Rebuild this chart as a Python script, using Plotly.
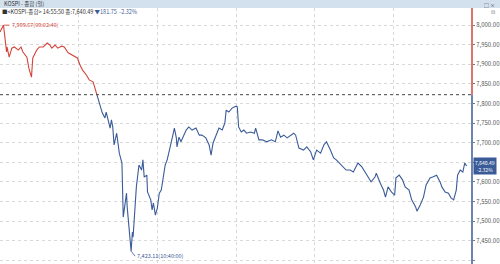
import plotly.graph_objects as go

# ---- data ----
times = ["09:00:00","09:02:40","09:05:00","09:05:20","09:07:00","09:09:00","09:11:00","09:14:00","09:16:00","09:17:30",
         "09:20:30","09:22:00","09:24:00","09:25:00","09:28:00","09:30:00","09:33:00","09:36:00","09:38:00","09:39:30",
         "09:42:00","09:44:00","09:47:00","09:49:00","09:52:00","09:55:00","09:57:00","09:59:00","10:01:00","10:03:00",
         "10:06:00","10:08:00","10:11:00","10:14:00","10:16:00","10:18:00","10:20:00","10:21:00","10:24:00","10:25:00",
         "10:26:00","10:27:00","10:29:00","10:31:00","10:33:00","10:33:30","10:34:00","10:36:30","10:37:00","10:40:00",
         "10:41:00","10:41:30","10:42:30","10:44:00","10:46:00","10:48:00","10:49:00","10:50:00","10:52:00","10:52:30",
         "10:55:00","10:56:00","10:57:00","10:58:30","11:00:00","11:01:30","11:03:00","11:04:00","11:06:00","11:07:30",
         "11:10:00","11:11:30","11:13:00","11:14:30","11:15:00","11:16:30","11:18:00","11:19:30","11:22:00","11:24:00",
         "11:26:30","11:29:30","11:32:00","11:34:00","11:37:00","11:39:30","11:41:00","11:42:30","11:45:00","11:47:00",
         "11:49:30","11:51:30","11:52:30","11:54:30","11:57:00","12:00:00","12:01:00","12:02:00","12:04:00","12:06:00",
         "12:08:00","12:11:00","12:14:00","12:15:00","12:17:30","12:20:00","12:23:30","12:27:00","12:30:00","12:32:00",
         "12:34:00","12:36:30","12:39:00","12:42:00","12:44:00","12:45:30","12:48:00","12:51:30","12:54:00","12:57:00",
         "12:59:00","13:01:30","13:04:30","13:07:00","13:09:00","13:12:00","13:14:30","13:16:30","13:20:00","13:22:00",
         "13:24:00","13:27:00","13:29:30","13:33:00","13:36:00","13:39:00","13:41:00","13:43:00","13:46:00","13:47:00",
         "13:50:00","13:52:30","13:54:00","13:56:00","13:58:30","14:01:00","14:02:00","14:04:30","14:07:00","14:09:00",
         "14:12:00","14:14:00","14:17:00","14:18:00","14:20:30","14:23:00","14:25:00","14:28:00","14:30:00","14:33:00",
         "14:36:00","14:37:00","14:39:30","14:42:00","14:44:00","14:46:00","14:48:00","14:49:00","14:51:00","14:53:00",
         "14:54:30","14:55:50"]
values = [7982,7999.67,7931,7944,7918,7941,7944,7936,7944,7931,
          7918,7890,7867,7916,7936,7944,7944,7954,7949,7941,
          7949,7941,7946,7944,7929,7923,7918,7916,7898,7885,
          7872,7860,7855,7821,7796,7776,7763,7778,7737,7758,
          7740,7694,7724,7673,7648,7579,7510,7571,7536,7423.11,
          7472,7459,7520,7587,7643,7630,7656,7612,7617,7574,
          7554,7528,7546,7515,7533,7571,7579,7605,7643,7656,
          7689,7714,7737,7712,7689,7714,7702,7712,7732,7740,
          7732,7737,7719,7719,7712,7694,7668,7699,7719,7737,
          7732,7750,7783,7778,7788,7793,7791,7740,7727,7732,
          7724,7727,7724,7737,7707,7707,7702,7707,7702,7730,
          7714,7719,7712,7719,7724,7719,7686,7681,7689,7676,
          7656,7681,7673,7694,7702,7681,7661,7656,7643,7638,
          7630,7630,7625,7648,7638,7622,7612,7600,7612,7622,
          7597,7579,7561,7587,7574,7566,7610,7617,7605,7587,
          7579,7554,7536,7525,7541,7561,7592,7610,7612,7617,
          7597,7587,7574,7571,7559,7554,7579,7617,7630,7625,
          7648,7640.49]
prev_close = 7822.24
y_ticks = [7400, 7450, 7500, 7550, 7600, 7650, 7700, 7750, 7800, 7850, 7900, 7950, 8000]
tick_labels = ["7,400.00","7,450.00","7,500.00","7,550.00","7,600.00","","7,700.00",
               "7,750.00","7,800.00","7,850.00","7,900.00","7,950.00","8,000.00"]
hours = ["10:00:00", "11:00:00", "12:00:00", "13:00:00", "14:00:00"]

DAY = "2025-01-02 "
xs = [DAY + t for t in times]
RED = "#d2463a"
BLUE = "#3a5b98"
Y0, Y1 = 7390.3, 8043.4

# split at crossing of previous close
cross = next(i for i, v in enumerate(values) if v < prev_close)
red_x, red_y = xs[:cross + 1], values[:cross + 1]
blue_x, blue_y = xs[cross:], values[cross:]

fig = go.Figure()
fig.add_trace(go.Scatter(x=red_x, y=red_y, mode="lines", line=dict(color=RED, width=1.1), showlegend=False))
fig.add_trace(go.Scatter(x=blue_x, y=blue_y, mode="lines", line=dict(color=BLUE, width=1.1), showlegend=False))

FONT = "Noto Sans CJK KR, Noto Sans, sans-serif"
fig.update_layout(
    width=500, height=264,
    margin=dict(l=0, r=26, t=8, b=0),
    paper_bgcolor="white", plot_bgcolor="white",
    font=dict(family=FONT, size=6, color="#555"),
    xaxis=dict(range=[DAY + "09:00:00", DAY + "15:00:00"], showticklabels=False,
               tickvals=[DAY + h for h in hours], showgrid=True, gridcolor="#d8d8d8",
               griddash="dot", gridwidth=1, zeroline=False, showline=False, ticks=""),
    yaxis=dict(range=[Y0, Y1], side="right", tickvals=y_ticks, ticktext=tick_labels,
               showgrid=True, gridcolor="#d8d8d8", griddash="dot", zeroline=False,
               ticks="outside", ticklen=2, tickcolor="#777", tickfont=dict(size=6, color="#555"),
               showline=False),
)

# previous close dotted line
fig.add_shape(type="line", xref="paper", x0=0, x1=1, yref="y", y0=prev_close, y1=prev_close,
              line=dict(color="#444", width=1, dash="dot"))
# right axis line, red above previous close, blue below
fig.add_shape(type="line", xref="paper", x0=1, x1=1, yref="y", y0=prev_close, y1=Y1,
              line=dict(color=RED, width=1.5))
fig.add_shape(type="line", xref="paper", x0=1, x1=1, yref="y", y0=Y0, y1=prev_close,
              line=dict(color=BLUE, width=1.5))

# title bar
fig.add_shape(type="rect", xref="paper", yref="paper", x0=-0.01, x1=1.06, y0=1.0, y1=1.0 + 8 / 256,
              fillcolor="#d3e1ef", line=dict(width=0), layer="above")
fig.add_annotation(xref="paper", yref="paper", x=0.005, y=1.0 + 4 / 256, xanchor="left", yanchor="middle",
                   text="KOSPI - 종합 (일)", showarrow=False, font=dict(size=5.5, color="#333"))
fig.add_annotation(xref="paper", yref="paper", x=1.054, y=1.0 + 3.5 / 256, xanchor="right", yanchor="middle",
                   text="□ ×", showarrow=False, font=dict(size=5, color="#333"))
fig.add_annotation(xref="paper", yref="paper", x=1.054, y=1.0 - 3 / 256, xanchor="right", yanchor="middle",
                   text="⊡", showarrow=False, font=dict(size=5, color="#666"))

# legend line
last_v = values[-1]
chg = last_v - prev_close
fig.add_annotation(xref="paper", yref="paper", x=0.0, y=0.985, xanchor="left", yanchor="middle",
                   text=("■&lt;KOSPI-종합&gt; 14:55:50 종:"
                         f"{last_v:,.2f} <span style='color:#3a5b98'>▼{abs(chg):,.2f}  {chg / prev_close * 100:.2f}%</span>"),
                   showarrow=False, font=dict(size=5.5, color="#333"))

# max / min labels
imax = values.index(max(values))
imin = values.index(min(values))
fig.add_annotation(x=xs[imax], y=values[imax], text=f"{values[imax]:,.2f}({times[imax]})",
                   xanchor="left", yanchor="middle", showarrow=True, arrowhead=0, arrowwidth=0.8,
                   arrowcolor=RED, ax=6, ay=0, font=dict(size=5.5, color=RED))
fig.add_annotation(x=xs[imin], y=values[imin], text=f"{values[imin]:,.2f}({times[imin]})",
                   xanchor="left", yanchor="middle", showarrow=True, arrowhead=0, arrowwidth=0.8,
                   arrowcolor=BLUE, ax=4, ay=5, font=dict(size=5.5, color=BLUE))

# current price box
fig.add_annotation(xref="paper", x=1.003, y=last_v, xanchor="left", yanchor="middle",
                   text=f"{last_v:,.2f}<br>{chg / prev_close * 100:.2f}%", showarrow=False,
                   bgcolor=BLUE, font=dict(size=5, color="white"), borderpad=1, align="center")

fig.write_html("out.html")
